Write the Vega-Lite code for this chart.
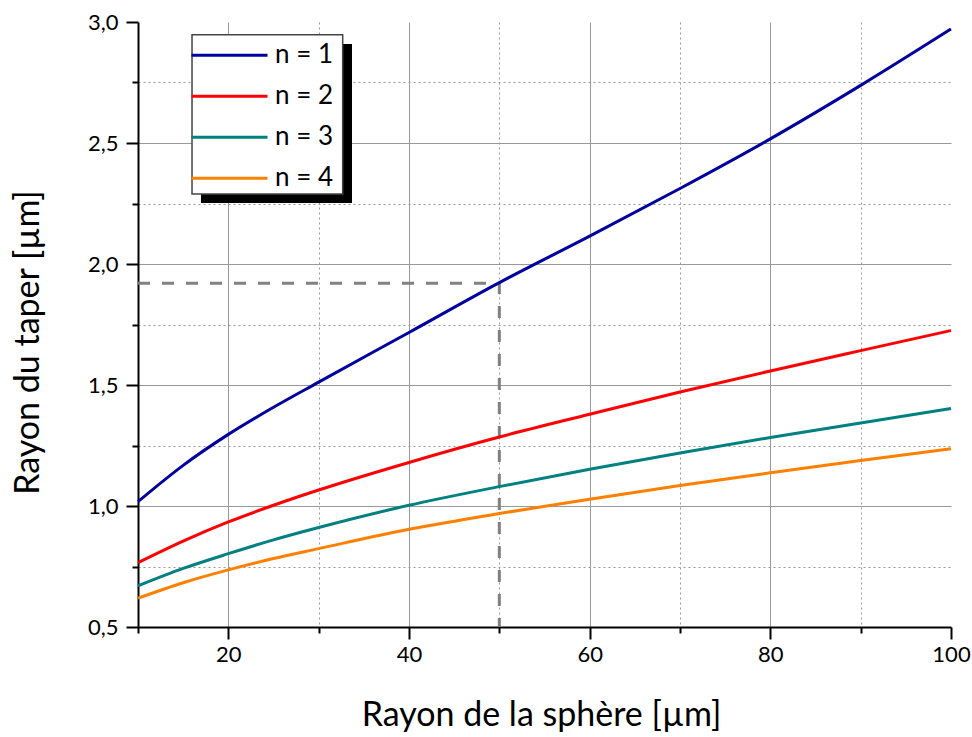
{
  "$schema": "https://vega.github.io/schema/vega-lite/v6.json",
  "width": 813,
  "height": 605,
  "autosize": {"type": "none"},
  "padding": {"left": 138, "top": 22, "right": 21, "bottom": 110},
  "background": "white",
  "config": {
    "view": {"stroke": null},
    "font": "Lato",
    "axis": {
      "domainColor": "black",
      "domainWidth": 2,
      "tickColor": "black",
      "tickWidth": 2,
      "labelFont": "Lato",
      "labelFontSize": 22,
      "labelColor": "black",
      "titleFont": "Lato",
      "titleFontSize": 34,
      "titleFontWeight": "normal",
      "titleColor": "black",
      "gridColor": "#999999",
      "gridWidth": 1
    }
  },
  "datasets": {
    "curves": [
      {"r": 10, "t": 1.018, "n": "n = 1"}, {"r": 15, "t": 1.168, "n": "n = 1"}, {"r": 20, "t": 1.296, "n": "n = 1"}, {"r": 25, "t": 1.408, "n": "n = 1"}, {"r": 30, "t": 1.512, "n": "n = 1"}, {"r": 40, "t": 1.717, "n": "n = 1"}, {"r": 50, "t": 1.923, "n": "n = 1"}, {"r": 60, "t": 2.115, "n": "n = 1"}, {"r": 70, "t": 2.312, "n": "n = 1"}, {"r": 80, "t": 2.517, "n": "n = 1"}, {"r": 90, "t": 2.738, "n": "n = 1"}, {"r": 100, "t": 2.971, "n": "n = 1"},
      {"r": 10, "t": 0.766, "n": "n = 2"}, {"r": 15, "t": 0.855, "n": "n = 2"}, {"r": 20, "t": 0.934, "n": "n = 2"}, {"r": 25, "t": 1.003, "n": "n = 2"}, {"r": 30, "t": 1.066, "n": "n = 2"}, {"r": 40, "t": 1.18, "n": "n = 2"}, {"r": 50, "t": 1.285, "n": "n = 2"}, {"r": 60, "t": 1.379, "n": "n = 2"}, {"r": 70, "t": 1.471, "n": "n = 2"}, {"r": 80, "t": 1.558, "n": "n = 2"}, {"r": 90, "t": 1.642, "n": "n = 2"}, {"r": 100, "t": 1.725, "n": "n = 2"},
      {"r": 10, "t": 0.67, "n": "n = 3"}, {"r": 15, "t": 0.742, "n": "n = 3"}, {"r": 20, "t": 0.803, "n": "n = 3"}, {"r": 25, "t": 0.86, "n": "n = 3"}, {"r": 30, "t": 0.911, "n": "n = 3"}, {"r": 40, "t": 1.003, "n": "n = 3"}, {"r": 50, "t": 1.08, "n": "n = 3"}, {"r": 60, "t": 1.152, "n": "n = 3"}, {"r": 70, "t": 1.219, "n": "n = 3"}, {"r": 80, "t": 1.283, "n": "n = 3"}, {"r": 90, "t": 1.343, "n": "n = 3"}, {"r": 100, "t": 1.403, "n": "n = 3"},
      {"r": 10, "t": 0.619, "n": "n = 4"}, {"r": 15, "t": 0.683, "n": "n = 4"}, {"r": 20, "t": 0.736, "n": "n = 4"}, {"r": 25, "t": 0.783, "n": "n = 4"}, {"r": 30, "t": 0.824, "n": "n = 4"}, {"r": 40, "t": 0.904, "n": "n = 4"}, {"r": 50, "t": 0.969, "n": "n = 4"}, {"r": 60, "t": 1.028, "n": "n = 4"}, {"r": 70, "t": 1.085, "n": "n = 4"}, {"r": 80, "t": 1.137, "n": "n = 4"}, {"r": 90, "t": 1.188, "n": "n = 4"}, {"r": 100, "t": 1.237, "n": "n = 4"}
    ],
    "guide": [
      {"r": 10, "t": 1.92, "k": 0},
      {"r": 50, "t": 1.92, "k": 1},
      {"r": 50, "t": 0.5, "k": 2}
    ],
    "one": [{}]
  },
  "layer": [
    {
      "data": {"name": "guide"},
      "mark": {"type": "line", "color": "#808080", "strokeWidth": 3, "strokeDash": [12, 12]},
      "encoding": {
        "x": {"field": "r", "type": "quantitative", "scale": {"domain": [10, 100], "nice": false, "zero": false},
          "axis": {
            "title": "Rayon de la sphère [µm]",
            "values": [10, 20, 30, 40, 50, 60, 70, 80, 90, 100],
            "labelExpr": "datum.value % 20 === 0 ? datum.value : ''",
            "labelPadding": 5,
            "labelFlush": false,
            "tickSize": {"condition": {"test": "datum.value % 20 === 0", "value": 12}, "value": 6},
            "gridDash": {"condition": {"test": "datum.value % 20 === 0", "value": []}, "value": [2, 3]},
            "gridOpacity": {"condition": {"test": "datum.value === 10 || datum.value === 100", "value": 0}, "value": 1},
            "titleX": 403,
            "titleY": 98,
            "titleBaseline": "alphabetic",
            "titleAnchor": "middle"
          }},
        "y": {"field": "t", "type": "quantitative", "scale": {"domain": [0.5, 3.0], "nice": false, "zero": false},
          "axis": {
            "title": "Rayon du taper [µm]",
            "values": [0.5, 0.75, 1.0, 1.25, 1.5, 1.75, 2.0, 2.25, 2.5, 2.75, 3.0],
            "labelExpr": "datum.value * 2 === round(datum.value * 2) ? replace(format(datum.value, '.1f'), '.', ',') : ''",
            "labelPadding": 8,
            "labelFlush": false,
            "tickSize": {"condition": {"test": "datum.value * 2 === round(datum.value * 2)", "value": 12}, "value": 6},
            "gridDash": {"condition": {"test": "datum.value * 2 === round(datum.value * 2)", "value": []}, "value": [2, 3]},
            "gridOpacity": {"condition": {"test": "datum.value === 0.5 || datum.value === 3", "value": 0}, "value": 1},
            "titleX": -100,
            "titleY": 320,
            "titleBaseline": "alphabetic",
            "titleAngle": -90,
            "titleAnchor": "middle"
          }},
        "order": {"field": "k", "type": "quantitative"}
      }
    },
    {
      "data": {"name": "curves"},
      "mark": {"type": "line", "strokeWidth": 3, "interpolate": "monotone"},
      "encoding": {
        "x": {"field": "r", "type": "quantitative"},
        "y": {"field": "t", "type": "quantitative"},
        "color": {
          "field": "n", "type": "nominal",
          "scale": {"domain": ["n = 1", "n = 2", "n = 3", "n = 4"], "range": ["#0000a0", "#ff0000", "#008080", "#ff8000"]},
          "legend": {
            "title": null,
            "orient": "none",
            "legendX": 52,
            "legendY": 13,
            "symbolType": "stroke",
            "symbolSize": 5776,
            "symbolStrokeWidth": 3,
            "labelFont": "Lato",
            "labelFontSize": 26,
            "labelColor": "black",
            "labelOffset": 6,
            "padding": 0,
            "clipHeight": 40.4,
            "rowPadding": 0
          }
        }
      }
    },
    {
      "data": {"name": "one"},
      "mark": {"type": "rect", "color": "black"},
      "encoding": {
        "x": {"datum": 16.97},
        "x2": {"datum": 33.69},
        "y": {"datum": 2.909},
        "y2": {"datum": 2.252}
      }
    },
    {
      "data": {"name": "one"},
      "mark": {"type": "rect", "fill": "white", "stroke": "#444444", "strokeWidth": 1.5},
      "encoding": {
        "x": {"datum": 15.98},
        "x2": {"datum": 32.66},
        "y": {"datum": 2.9475},
        "y2": {"datum": 2.289}
      }
    }
  ]
}
